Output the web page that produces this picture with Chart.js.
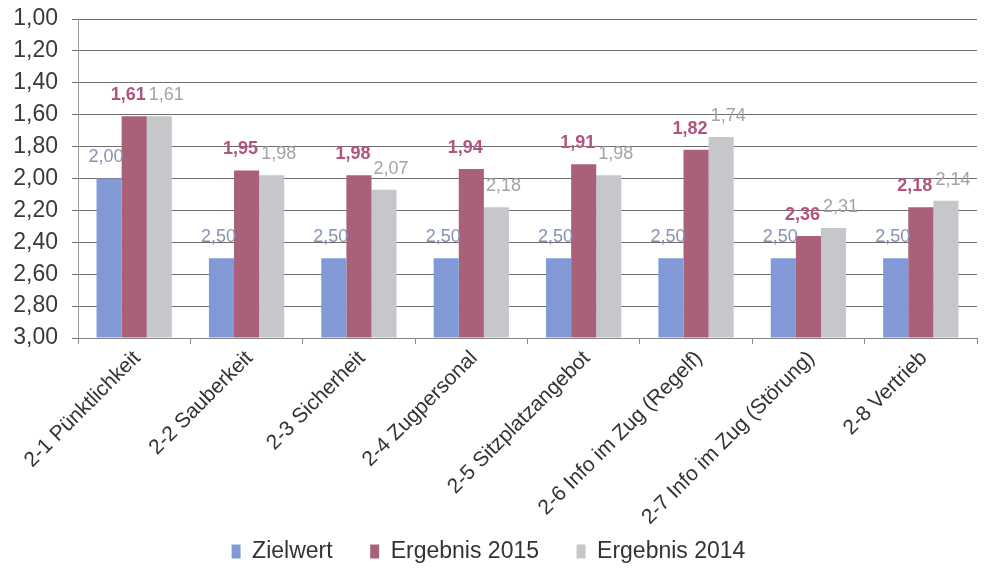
<!DOCTYPE html>
<html>
<head>
<meta charset="utf-8">
<script src="https://cdn.jsdelivr.net/npm/chart.js@4/dist/chart.umd.min.js"></script>
<style>
  html, body { margin: 0; padding: 0; background: #fff; }
  #wrap { width: 984px; height: 576px; }
</style>
</head>
<body>
<div id="wrap"><canvas id="myChart" width="984" height="576"></canvas></div>
<script>
// Categories and values (lower is better, axis runs 1,00 -> 3,00)
const categories = [
  '2-1 Pünktlichkeit', '2-2 Sauberkeit', '2-3 Sicherheit', '2-4 Zugpersonal',
  '2-5 Sitzplatzangebot', '2-6 Info im Zug (Regelf)', '2-7 Info im Zug (Störung)', '2-8 Vertrieb'
];
const zielwert = [2.00, 2.50, 2.50, 2.50, 2.50, 2.50, 2.50, 2.50];
const ergebnis2015 = [1.61, 1.95, 1.98, 1.94, 1.91, 1.82, 2.36, 2.18];
const ergebnis2014 = [1.61, 1.98, 2.07, 2.18, 1.98, 1.74, 2.31, 2.14];
const seriesNames = ['Zielwert', 'Ergebnis 2015', 'Ergebnis 2014'];

function fmt(v) {
  return v.toFixed(2).replace('.', ',');
}

// Value labels drawn above each bar
const valueLabels = {
  id: 'valueLabels',
  afterDatasetsDraw(chart) {
    const ctx = chart.ctx;
    const styles = [
      { color: '#8791b3', font: '18px "Liberation Sans", Arial, sans-serif', dx: -3 },
      { color: '#b0557e', font: 'bold 18px "Liberation Sans", Arial, sans-serif', dx: -6 },
      { color: '#a3a3a3', font: '18px "Liberation Sans", Arial, sans-serif', dx: 7 }
    ];
    ctx.save();
    ctx.textAlign = 'center';
    ctx.textBaseline = 'middle';
    chart.data.datasets.forEach((ds, i) => {
      const meta = chart.getDatasetMeta(i);
      meta.data.forEach((bar, j) => {
        ctx.fillStyle = styles[i].color;
        ctx.font = styles[i].font;
        ctx.fillText(fmt(ds.data[j]), bar.x + styles[i].dx, bar.y - 21);
      });
    });
    ctx.restore();
  }
};

const ctx = document.getElementById('myChart').getContext('2d');
new Chart(ctx, {
  type: 'bar',
  data: {
    labels: categories,
    datasets: [
      { label: seriesNames[0], data: zielwert, backgroundColor: '#8199d6', base: 3 },
      { label: seriesNames[1], data: ergebnis2015, backgroundColor: '#a96079', base: 3 },
      { label: seriesNames[2], data: ergebnis2014, backgroundColor: '#c5c7ca', base: 3 }
    ]
  },
  options: {
    responsive: false,
    animation: false,
    layout: { padding: { top: 19, right: 7, left: 0, bottom: 3 } },
    datasets: {
      bar: { categoryPercentage: 0.67, barPercentage: 1.0 }
    },
    scales: {
      y: {
        reverse: true,
        min: 1,
        max: 3,
        afterFit(scale) { scale.width = 78; },
        ticks: {
          stepSize: 0.2,
          autoSkip: false,
          padding: 14,
          color: '#3a3a3a',
          font: { size: 23, lineHeight: 0.4, family: '"Liberation Sans", Arial, sans-serif' },
          callback: (v) => fmt(v)
        },
        grid: { color: '#6e6e6e', lineWidth: 1, drawTicks: true, tickLength: 6 },
        border: { color: '#9a9a9a' }
      },
      x: {
        afterFit(scale) { scale.height = 190; },
        ticks: {
          minRotation: 45,
          maxRotation: 45,
          autoSkip: false,
          labelOffset: 3,
          padding: 2,
          color: '#333',
          font: { size: 21, family: '"Liberation Sans", Arial, sans-serif' }
        },
        grid: { drawOnChartArea: false, drawTicks: true, tickLength: 6, color: '#8a8a8a' },
        border: { color: '#8a8a8a' }
      }
    },
    plugins: {
      legend: {
        position: 'bottom',
        labels: {
          boxWidth: 9,
          boxHeight: 14,
          padding: 12,
          color: '#333',
          font: { size: 23, family: '"Liberation Sans", Arial, sans-serif' },
          generateLabels(chart) {
            const items = Chart.defaults.plugins.legend.labels.generateLabels(chart);
            items.forEach((it, i) => {
              if (i < items.length - 1) it.text = it.text + '\u00a0\u00a0\u00a0\u00a0';
            });
            return items;
          }
        }
      },
      tooltip: { enabled: false }
    }
  },
  plugins: [valueLabels]
});
</script>
</body>
</html>
